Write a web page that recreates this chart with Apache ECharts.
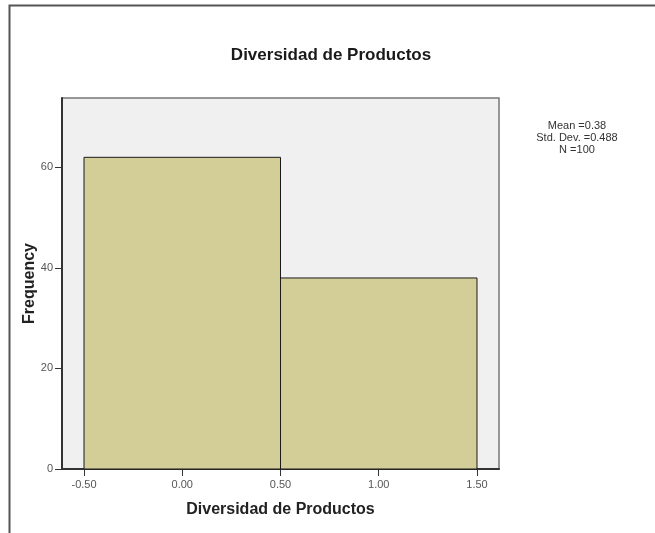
<!DOCTYPE html>
<html>
<head>
<meta charset="utf-8">
<script src="https://cdn.jsdelivr.net/npm/echarts@6/dist/echarts.min.js"></script>
<style>
  html, body { margin: 0; padding: 0; background: #fff; }
  #chart { width: 655px; height: 533px; }
</style>
</head>
<body>
<div id="chart"></div>
<script>
// Histogram bins (lower edge, upper edge) and counts
const binStart = [-0.5, 0.5];
const binEnd = [0.5, 1.5];
const frequencies = [62, 38];

// Axis ticks
const xTicks = [-0.5, 0, 0.5, 1.0, 1.5];
const yTicks = [0, 20, 40, 60];

// Summary statistics box
const statLines = ['Mean =0.38', 'Std. Dev. =0.488', 'N =100'];

const titleText = 'Diversidad de Productos';
const xName = 'Diversidad de Productos';
const yName = 'Frequency';

const font = 'Liberation Sans, Arial, sans-serif';

const histData = binStart.map((s, i) => [s, binEnd[i], frequencies[i]]);

const chart = echarts.init(document.getElementById('chart'), null, { renderer: 'canvas' });

chart.setOption({
  animation: false,
  backgroundColor: '#ffffff',
  grid: {
    left: 62, top: 98, right: 156, bottom: 64,
    show: true,
    backgroundColor: '#f0f0f0',
    borderColor: '#777777',
    borderWidth: 1.5
  },
  xAxis: {
    type: 'value',
    min: -0.612,
    max: 1.612,
    name: xName,
    nameLocation: 'middle',
    nameGap: 33,
    nameMoveOverlap: false,
    nameTextStyle: { fontFamily: font, fontWeight: 'bold', fontSize: 16, color: '#222' },
    splitLine: { show: false },
    axisLine: { show: true, onZero: false, lineStyle: { color: '#333', width: 2 } },
    axisTick: { show: true, customValues: xTicks, length: 7, lineStyle: { color: '#333', width: 1 } },
    axisLabel: {
      customValues: xTicks,
      formatter: v => v.toFixed(2),
      fontFamily: font, fontSize: 11, color: '#555', margin: 10
    }
  },
  yAxis: {
    type: 'value',
    min: 0,
    max: 73.8,
    name: yName,
    nameLocation: 'middle',
    nameGap: 24,
    nameMoveOverlap: false,
    nameTextStyle: { fontFamily: font, fontWeight: 'bold', fontSize: 16, color: '#222' },
    splitLine: { show: false },
    axisLine: { show: true, onZero: false, lineStyle: { color: '#333', width: 2 } },
    axisTick: { show: true, customValues: yTicks, length: 7, lineStyle: { color: '#333', width: 1 } },
    axisLabel: {
      customValues: yTicks,
      fontFamily: font, fontSize: 11, color: '#555', margin: 9
    }
  },
  series: [{
    type: 'custom',
    data: histData,
    encode: { x: [0, 1], y: 2 },
    renderItem: function (params, api) {
      const p0 = api.coord([api.value(0), 0]);
      const p1 = api.coord([api.value(1), api.value(2)]);
      return {
        type: 'rect',
        shape: { x: p0[0], y: p1[1], width: p1[0] - p0[0], height: p0[1] - p1[1] },
        style: { fill: '#d3ce97', stroke: '#1a1a1a', lineWidth: 1 }
      };
    }
  }],
  graphic: [
    {
      type: 'polyline',
      shape: { points: [[9.5, 533], [9.5, 5.5], [655, 5.5]] },
      style: { stroke: '#555555', lineWidth: 2, fill: null }
    },
    {
      type: 'text',
      x: 331, y: 55,
      style: {
        text: titleText, align: 'center', verticalAlign: 'middle',
        font: 'bold 17px ' + font, fill: '#1a1a1a'
      }
    },
    {
      type: 'text',
      x: 577, y: 120,
      style: {
        text: statLines.join('\n'), align: 'center', verticalAlign: 'top',
        font: '11px ' + font, fill: '#333', lineHeight: 12
      }
    }
  ]
});
</script>
</body>
</html>
